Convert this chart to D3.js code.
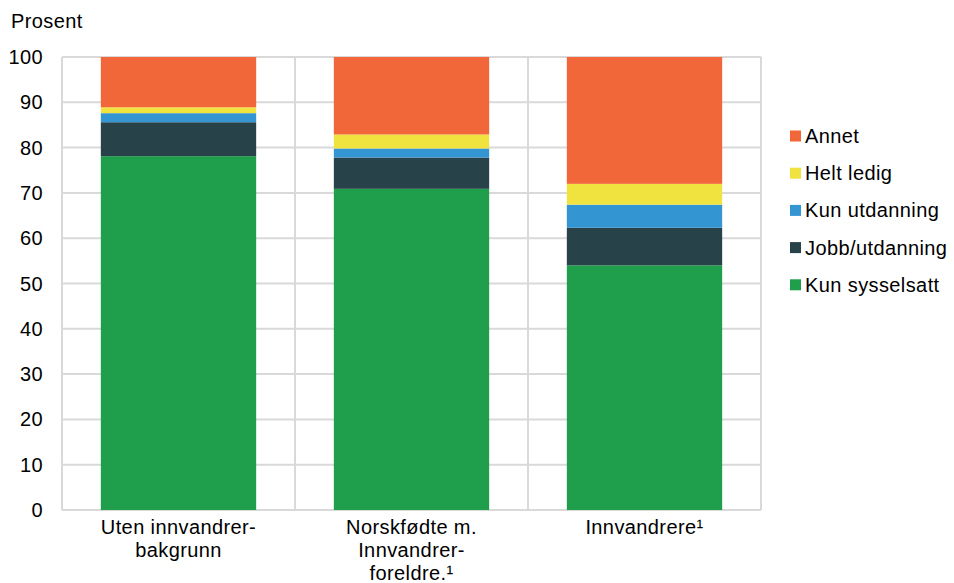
<!DOCTYPE html>
<html><head><meta charset="utf-8">
<script src="https://cdn.jsdelivr.net/npm/d3@7"></script>
<style>body{margin:0;background:#fff}svg{display:block}text{font-family:"Liberation Sans",Arial,sans-serif;fill:#000;letter-spacing:0.4px}</style>
</head><body>
<svg id="c" width="954" height="583"></svg>
<script>
const categories = [["Uten innvandrer-","bakgrunn"],["Norskfødte m.","Innvandrer-","foreldre.¹"],["Innvandrere¹"]];
const seriesNames = ["Kun sysselsatt","Jobb/utdanning","Kun utdanning","Helt ledig","Annet"];
const seriesColors = ["#1f9e4b","#274249","#3495d3","#f0e23f","#f26739"];
const kunSysselsatt = [78.1, 70.9, 54.0];
const jobbUtdanning = [7.5, 6.9, 8.3];
const kunUtdanning = [2.0, 2.0, 5.1];
const heltLedig = [1.3, 3.1, 4.6];
const annet = [11.1, 17.1, 28.0];
const yTicks = [0,10,20,30,40,50,60,70,80,90,100];

const seriesValues = [kunSysselsatt, jobbUtdanning, kunUtdanning, heltLedig, annet];
const rows = categories.map((c,i)=>{const r={i}; seriesNames.forEach((s,k)=>r[s]=seriesValues[k][i]); return r;});
const stacked = d3.stack().keys(seriesNames)(rows);

const svg = d3.select("#c");
const L=62, R=761, T=57, B=510;
const x = d3.scaleBand().domain(d3.range(categories.length)).range([L,R]).paddingInner(1/3).paddingOuter(1/6);
const y = d3.scaleLinear().domain([0,100]).range([B,T]);
const step = x.step();
const FS = 20;

// grid
const g = svg.append("g");
g.selectAll("line.h").data(yTicks).join("line")
  .attr("x1",L).attr("x2",R).attr("y1",d=>y(d)).attr("y2",d=>y(d))
  .attr("stroke","#d9d9d9").attr("stroke-width",2);
g.selectAll("line.v").data(d3.range(categories.length+1)).join("line")
  .attr("x1",d=>L+d*step).attr("x2",d=>L+d*step).attr("y1",T).attr("y2",B)
  .attr("stroke","#d9d9d9").attr("stroke-width",2);

// bars
svg.append("g").selectAll("g").data(stacked).join("g")
  .attr("fill",(d,k)=>seriesColors[k])
  .selectAll("rect").data(d=>d).join("rect")
  .attr("x",d=>x(d.data.i)).attr("width",x.bandwidth())
  .attr("y",d=>y(d[1])).attr("height",d=>y(d[0])-y(d[1]));

// y labels
svg.append("g").selectAll("text").data(yTicks).join("text")
  .attr("x",43).attr("y",d=>y(d)).attr("dy","0.35em").attr("text-anchor","end")
  .attr("font-size",FS).text(d=>d);
svg.append("text").attr("x",11).attr("y",28).attr("font-size",FS).text("Prosent");

// x labels
svg.append("g").selectAll("text").data(categories).join("text")
  .attr("text-anchor","middle").attr("font-size",FS)
  .each(function(lines,i){
    d3.select(this).selectAll("tspan").data(lines).join("tspan")
      .attr("x",x(i)+x.bandwidth()/2).attr("y",(d,j)=>534+j*23).text(d=>d);
  });

// legend
const legOrder = [4,3,2,1,0];
const lg = svg.append("g").selectAll("g").data(legOrder).join("g")
  .attr("transform",(d,j)=>`translate(790,${136+j*37.2})`);
lg.append("rect").attr("x",0).attr("y",-5.5).attr("width",11).attr("height",11).attr("fill",d=>seriesColors[d]);
lg.append("text").attr("x",15).attr("dy","0.35em").attr("font-size",FS).text(d=>seriesNames[d]);
</script>
</body></html>
